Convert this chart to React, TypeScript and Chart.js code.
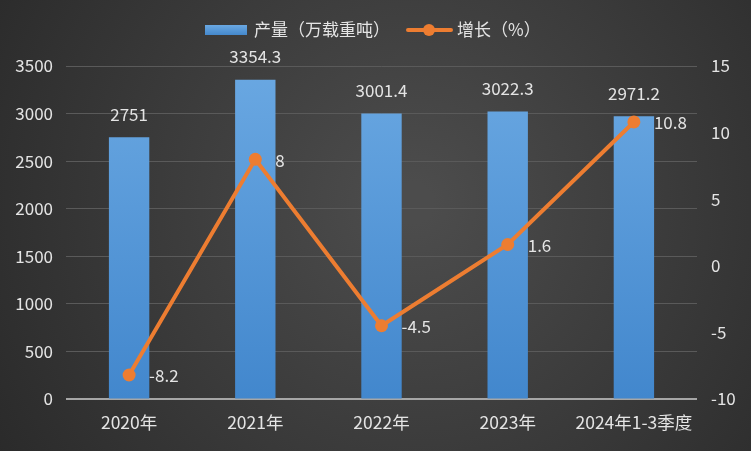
import React, { useEffect, useRef } from "react";
import { Chart, registerables } from "chart.js";

Chart.register(...registerables);

const categories = ["2020年", "2021年", "2022年", "2023年", "2024年1-3季度"];
const outputValues = [2751, 3354.3, 3001.4, 3022.3, 2971.2];
const growthValues = [-8.2, 8, -4.5, 1.6, 10.8];
const outputLabel = "产量（万载重吨）";
const growthLabel = "增长（%）";

const FONT = "'Noto Sans CJK SC', 'Noto Sans', sans-serif";
const TEXT = "#e4e4e4";

const bgPlugin = {
  id: "bg",
  beforeDraw(chart: any) {
    const { ctx, width, height } = chart;
    const g = ctx.createRadialGradient(width * 0.55, height * 0.45, 20, width * 0.55, height * 0.45, width * 0.65);
    g.addColorStop(0, "#4c4c4c");
    g.addColorStop(1, "#2a2a2a");
    ctx.save();
    ctx.fillStyle = g;
    ctx.fillRect(0, 0, width, height);
    ctx.restore();
  },
};

const overlayPlugin = {
  id: "overlay",
  beforeDatasetsDraw(chart: any) {
    const { ctx, chartArea } = chart;
    const y = chart.scales.y.getPixelForValue(0);
    ctx.save();
    ctx.strokeStyle = "#a6a6a6";
    ctx.lineWidth = 2;
    ctx.beginPath();
    ctx.moveTo(chartArea.left, y);
    ctx.lineTo(chartArea.right, y);
    ctx.stroke();
    ctx.restore();
  },
  afterDatasetsDraw(chart: any) {
    const { ctx } = chart;
    ctx.save();
    ctx.fillStyle = TEXT;
    ctx.font = `17px ${FONT}`;
    const barMeta = chart.getDatasetMeta(1);
    barMeta.data.forEach((el: any, i: number) => {
      ctx.textAlign = "center";
      ctx.textBaseline = "middle";
      ctx.fillText(String(outputValues[i]), el.x, el.y - 23);
    });
    const lineMeta = chart.getDatasetMeta(0);
    lineMeta.data.forEach((el: any, i: number) => {
      ctx.textAlign = "left";
      ctx.textBaseline = "middle";
      ctx.fillText(String(growthValues[i]), el.x + 20, el.y + 1);
    });
    ctx.restore();
  },
  afterDraw(chart: any) {
    const { ctx } = chart;
    ctx.save();
    const g = ctx.createLinearGradient(0, 25, 0, 35);
    g.addColorStop(0, "#6aa8e2");
    g.addColorStop(1, "#4488cc");
    ctx.fillStyle = g;
    ctx.fillRect(205, 25, 42, 10);
    ctx.fillStyle = TEXT;
    ctx.font = `17px ${FONT}`;
    ctx.textAlign = "left";
    ctx.textBaseline = "middle";
    ctx.fillText(outputLabel, 254, 30);
    ctx.strokeStyle = "#ed7d31";
    ctx.lineWidth = 4;
    ctx.lineCap = "round";
    ctx.beginPath();
    ctx.moveTo(408, 30);
    ctx.lineTo(451, 30);
    ctx.stroke();
    ctx.fillStyle = "#ed7d31";
    ctx.beginPath();
    ctx.arc(429, 30, 6, 0, Math.PI * 2);
    ctx.fill();
    ctx.fillStyle = TEXT;
    ctx.fillText(growthLabel, 457, 30);
    ctx.restore();
  },
};

export default function App() {
  const ref = useRef<HTMLCanvasElement>(null);
  useEffect(() => {
    const canvas = ref.current!;
    const ctx = canvas.getContext("2d")!;
    const barGrad = ctx.createLinearGradient(0, 66, 0, 399);
    barGrad.addColorStop(0, "#6aa8e2");
    barGrad.addColorStop(1, "#4287cd");
    const chart = new Chart(canvas, {
      type: "bar",
      data: {
        labels: categories,
        datasets: [
          {
            type: "line",
            label: growthLabel,
            data: growthValues,
            yAxisID: "y1",
            borderColor: "#ed7d31",
            backgroundColor: "#ed7d31",
            borderWidth: 4,
            pointRadius: 6.5,
            pointBackgroundColor: "#ed7d31",
            pointBorderWidth: 0,
            tension: 0,
            order: 0,
          } as any,
          {
            type: "bar",
            label: outputLabel,
            data: outputValues,
            yAxisID: "y",
            backgroundColor: barGrad,
            borderWidth: 0,
            categoryPercentage: 1,
            barPercentage: 0.32,
            order: 1,
          },
        ],
      },
      options: {
        responsive: false,
        animation: false,
        layout: { padding: { top: 66, left: 0, right: 0, bottom: 0 } },
        plugins: { legend: { display: false }, tooltip: { enabled: false } },
        scales: {
          x: {
            grid: { display: false },
            border: { display: false },
            ticks: { color: TEXT, font: { size: 17.5, family: FONT }, padding: 5, maxRotation: 0, autoSkip: false },
            afterFit(scale: any) {
              scale.height = 52;
            },
          },
          y: {
            position: "left",
            min: 0,
            max: 3500,
            ticks: {
              stepSize: 500,
              color: TEXT,
              font: { size: 17, family: FONT },
              padding: 13,
              callback: (v: any) => String(v),
            },
            grid: { color: "#5a5a5a", lineWidth: 1, drawTicks: false },
            border: { display: false },
            afterFit(scale: any) {
              scale.width = 66;
            },
          },
          y1: {
            position: "right",
            min: -10,
            max: 15,
            ticks: {
              stepSize: 5,
              color: TEXT,
              font: { size: 17, family: FONT },
              padding: 14,
              callback: (v: any) => String(v),
            },
            grid: { display: false, drawTicks: false },
            border: { display: false },
            afterFit(scale: any) {
              scale.width = 54;
            },
          },
        },
      },
      plugins: [bgPlugin, overlayPlugin],
    });
    return () => chart.destroy();
  }, []);
  return (
    <div style={{ position: "fixed", left: 0, top: 0, width: 751, height: 451 }}>
      <canvas ref={ref} width={751} height={451} style={{ display: "block" }} />
    </div>
  );
}
